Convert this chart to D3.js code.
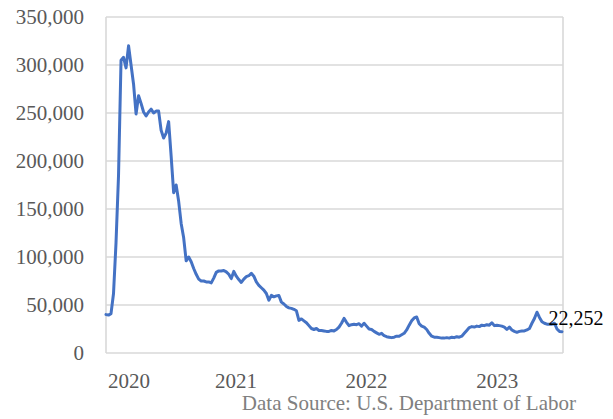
<!DOCTYPE html>
<html>
<head>
<meta charset="utf-8">
<script src="https://cdn.jsdelivr.net/npm/d3@7/dist/d3.min.js"></script>
<style>
  html, body { margin: 0; padding: 0; background: #ffffff; }
  svg { display: block; }
</style>
</head>
<body>
<svg id="chart" width="613" height="419"></svg>
<script>
// ---- Data (weekly, starting week of 2020-01-04) ----
const startDate = "2020-01-04";
const claims = [
  40000, 39500, 41000, 62000, 115000, 185000, 305000, 308000, 297000, 320000,
  300000, 280000, 249000, 268000, 260000, 251000, 247000, 251000, 254000, 250000,
  252000, 252000, 232000, 224000, 229000, 241000, 205000, 167000, 175000, 158000,
  135000, 120000, 96000, 100000, 95000, 88000, 82000, 77000, 75000, 75000,
  74000, 74000, 73000, 78000, 84000, 85500, 85500, 86000, 84500, 82000,
  77500, 85000, 80000, 76500, 73500, 77000, 79500, 80500, 83000, 80000,
  74000, 70500, 68000, 65500, 62000, 55000, 60000, 58500, 59500, 60000,
  53000, 51000, 48500, 47000, 46500, 45500, 44000, 34000, 35500, 33500,
  31500, 28500, 25500, 24500, 25500, 23500, 23500, 23000, 22500, 22500,
  23500, 23000, 24500, 27000, 31000, 36000, 32000, 28500, 29500, 30000,
  29500, 30500, 28000, 31000, 28000, 25000, 24500, 22500, 21000, 19500,
  20500, 18000, 17000, 16500, 16000, 16500, 17500, 17500, 19000, 20500,
  24000, 29000, 33500, 36500, 37500, 30500, 28000, 27000, 24500, 20500,
  17500, 16500, 16500, 16000, 15500, 15500, 16000, 15500, 16500, 16000,
  17000, 16500, 17500, 20500, 23500, 26500, 27500, 27000, 28000, 27500,
  29000, 28500, 29500, 29000, 31500, 28500, 29000, 28500, 28000, 27000,
  24500, 27000, 24000, 22500, 21500, 22500, 23000, 23000, 24000, 25500,
  31000, 36000, 42500, 37000, 32500, 31000, 30000, 30000, 30000, 31000,
  25000, 22500, 22252
];
const yTicks = [0, 50000, 100000, 150000, 200000, 250000, 300000, 350000];
const yearLabels = ["2020", "2021", "2022", "2023"];
const sourceText = "Data Source: U.S. Department of Labor";

// ---- Build series ----
const parse = d3.timeParse("%Y-%m-%d");
const t0 = parse(startDate);
const series = claims.map((v, i) => ({ date: d3.timeWeek.offset(t0, i), value: v }));

// ---- Layout ----
const svg = d3.select("#chart");
const plot = { left: 106, right: 562, top: 17, bottom: 353 };
const font = "'Liberation Serif', 'DejaVu Serif', serif";
const textColor = "#595959";
const gridColor = "#d9d9d9";

const x = d3.scaleTime()
  .domain([series[0].date, series[series.length - 1].date])
  .range([plot.left, plot.right]);
const y = d3.scaleLinear()
  .domain([0, 350000])
  .range([plot.bottom, plot.top]);

// Gridlines
svg.append("g")
  .selectAll("line")
  .data(yTicks)
  .join("line")
  .attr("x1", plot.left)
  .attr("x2", plot.right + 1)
  .attr("y1", d => y(d))
  .attr("y2", d => y(d))
  .attr("stroke", gridColor)
  .attr("stroke-width", 1.6);

// Plot frame (left/right sides)
svg.append("line")
  .attr("x1", plot.left).attr("x2", plot.left)
  .attr("y1", plot.top).attr("y2", plot.bottom)
  .attr("stroke", gridColor).attr("stroke-width", 1.6);
svg.append("line")
  .attr("x1", plot.right + 1).attr("x2", plot.right + 1)
  .attr("y1", plot.top).attr("y2", plot.bottom)
  .attr("stroke", gridColor).attr("stroke-width", 1.6);

// Y axis labels
const yAxis = d3.axisLeft(y)
  .tickValues(yTicks)
  .tickFormat(d3.format(","))
  .tickSize(0)
  .tickPadding(22);
const gy = svg.append("g")
  .attr("transform", `translate(${plot.left},0)`)
  .call(yAxis);
gy.select(".domain").remove();
gy.selectAll("text")
  .attr("font-family", font)
  .attr("font-size", 21)
  .attr("fill", textColor);

// X axis year labels
const yearDates = yearLabels.map(s => parse(s + "-01-01"));
const labelHalf = 22;
svg.append("g")
  .selectAll("text")
  .data(yearLabels)
  .join("text")
  .attr("x", (d, i) => Math.max(x(yearDates[i]), plot.left + labelHalf + 1))
  .attr("y", 388)
  .attr("text-anchor", "middle")
  .attr("font-family", font)
  .attr("font-size", 21)
  .attr("fill", textColor)
  .text(d => d);

// Line
const line = d3.line()
  .x(d => x(d.date))
  .y(d => y(d.value));
svg.append("path")
  .datum(series)
  .attr("d", line)
  .attr("fill", "none")
  .attr("stroke", "#4472C4")
  .attr("stroke-width", 3)
  .attr("stroke-linejoin", "round")
  .attr("stroke-linecap", "round");

// End label
const last = series[series.length - 1];
svg.append("text")
  .attr("x", x(last.date) + 14)
  .attr("y", y(last.value) - 7)
  .attr("text-anchor", "middle")
  .attr("font-family", font)
  .attr("font-size", 20)
  .attr("fill", "#000000")
  .text(d3.format(",")(last.value));

// Source
svg.append("text")
  .attr("x", 576)
  .attr("y", 410)
  .attr("text-anchor", "end")
  .attr("font-family", font)
  .attr("font-size", 21)
  .attr("fill", "#808080")
  .text(sourceText);
</script>
</body>
</html>
